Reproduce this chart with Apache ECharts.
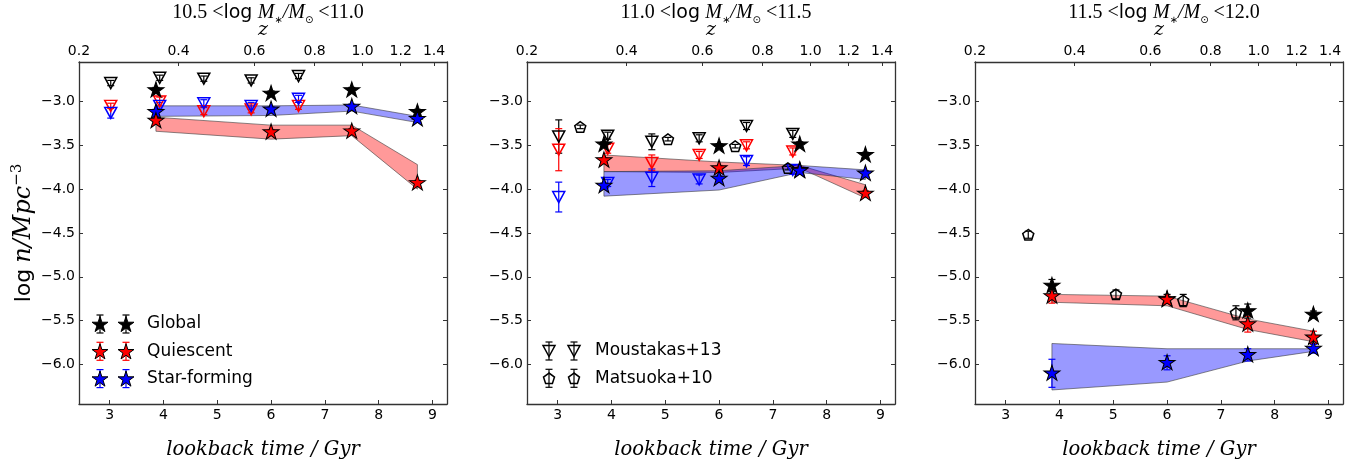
<!DOCTYPE html>
<html><head><meta charset="utf-8">
<script src="https://cdn.jsdelivr.net/npm/echarts@6/dist/echarts.min.js"></script>
<style>html,body{margin:0;padding:0;background:#fff;}#c{width:1365px;height:468px;}</style>
</head><body><div id="c"></div>
<script>
// ---------------- data ----------------
const panelTitles = [['10.5', '11.0'], ['11.0', '11.5'], ['11.5', '12.0']];
const xTicks = [3, 4, 5, 6, 7, 8, 9];
const yTicks = [-6.0, -5.5, -5.0, -4.5, -4.0, -3.5, -3.0];
const zTickLabels = ['0.2', '0.4', '0.6', '0.8', '1.0', '1.2', '1.4'];
const zTickLookback = [2.43, 4.28, 5.69, 6.81, 7.70, 8.41, 9.03];

const starX = [3.86, 6.0, 7.5, 8.72];
const moustakasX = [3.02, 3.93, 4.75, 5.63, 6.51, 7.37];
const matsuokaX = [3.42, 5.05, 6.30, 7.28];

// panel 1 : 10.5 < log M < 11.0
const p1Global = [-2.87, -2.91, -2.87, -3.12];
const p1GlobalErr = [0.03, 0.03, 0.03, 0.03];
const p1Quiescent = [-3.22, -3.35, -3.34, -3.93];
const p1QuiescentErr = [0.03, 0.03, 0.03, 0.03];
const p1StarForming = [-3.12, -3.09, -3.06, -3.20];
const p1StarFormingErr = [0.03, 0.03, 0.03, 0.03];
const p1QuiescentLo = [-3.34, -3.43, -3.39, -4.00];
const p1QuiescentHi = [-3.18, -3.27, -3.27, -3.72];
const p1StarFormingLo = [-3.17, -3.16, -3.11, -3.24];
const p1StarFormingHi = [-3.05, -3.05, -3.04, -3.17];
const p1MousGlobal = [-2.79, -2.73, -2.74, -2.76, -2.71];
const p1MousGlobalErr = [0.03, 0.03, 0.03, 0.03, 0.03];
const p1MousQuiescent = [-3.05, -3.00, -3.11, -3.09, -3.05];
const p1MousQuiescentErr = [0.03, 0.05, 0.04, 0.04, 0.04];
const p1MousStarForming = [-3.13, -3.05, -3.02, -3.05, -2.97];
const p1MousStarFormingErr = [0.06, 0.04, 0.04, 0.04, 0.04];

// panel 2 : 11.0 < log M < 11.5
const p2Global = [-3.49, -3.51, -3.49, -3.61];
const p2GlobalErr = [0.03, 0.03, 0.03, 0.03];
const p2Quiescent = [-3.67, -3.76, -3.78, -4.05];
const p2QuiescentErr = [0.03, 0.03, 0.03, 0.03];
const p2StarForming = [-3.96, -3.88, -3.79, -3.82];
const p2StarFormingErr = [0.03, 0.03, 0.03, 0.03];
const p2QuiescentLo = [-3.80, -3.81, -3.76, -4.10];
const p2QuiescentHi = [-3.61, -3.69, -3.73, -3.95];
const p2StarFormingLo = [-4.08, -4.01, -3.81, -3.89];
const p2StarFormingHi = [-3.80, -3.79, -3.73, -3.78];
const p2MousGlobal = [-3.40, -3.39, -3.46, -3.42, -3.28, -3.37];
const p2MousGlobalErr = [0.19, 0.04, 0.09, 0.04, 0.04, 0.04];
const p2MousQuiescent = [-3.55, -3.54, -3.70, -3.61, -3.50, -3.57];
const p2MousQuiescentErr = [0.24, 0.05, 0.09, 0.04, 0.04, 0.04];
const p2MousStarForming = [-4.09, -3.93, -3.87, -3.89, -3.68, -3.78];
const p2MousStarFormingErr = [0.17, 0.04, 0.10, 0.05, 0.05, 0.05];
const p2Matsuoka = [-3.29, -3.43, -3.51, -3.76];
const p2MatsuokaErr = [0.02, 0.02, 0.02, 0.02];

// panel 3 : 11.5 < log M < 12.0
const p3Global = [-5.10, -5.25, -5.39, -5.43];
const p3GlobalErr = [0.07, 0.05, 0.08, 0.04];
const p3Quiescent = [-5.22, -5.26, -5.54, -5.69];
const p3QuiescentErr = [0.08, 0.04, 0.09, 0.07];
const p3StarForming = [-6.10, -5.98, -5.89, -5.82];
const p3StarFormingErr = [0.16, 0.08, 0.07, 0.05];
const p3QuiescentLo = [-5.29, -5.33, -5.60, -5.74];
const p3QuiescentHi = [-5.20, -5.22, -5.48, -5.62];
const p3StarFormingLo = [-6.29, -6.20, -5.96, -5.85];
const p3StarFormingHi = [-5.76, -5.82, -5.82, -5.82];
const p3Matsuoka = [-4.52, -5.20, -5.27, -5.41];
const p3MatsuokaErr = [0.04, 0.05, 0.07, 0.08];

// ---------------- styling ----------------
// marker outlines in a 0..100 box
const STAR_PTS = [[50,0],[38.77,34.55],[2.44,34.55],[31.83,55.9],[20.61,90.45],[50,69.1],[79.39,90.45],[68.17,55.9],[97.56,34.55],[61.23,34.55]];
const TRI_PTS = [[0,0],[100,0],[50,100]];
const PENT_PTS = [[50,0],[2.44,34.55],[20.61,90.45],[79.39,90.45],[97.56,34.55]];
function toPath(pts) { return 'path://M' + pts.map(p => p[0] + ' ' + p[1]).join('L') + 'Z'; }
function placePts(pts, cx, cy, w, h) {
  const xs = pts.map(p => p[0]), ys = pts.map(p => p[1]);
  const x0 = Math.min(...xs), x1 = Math.max(...xs), y0 = Math.min(...ys), y1 = Math.max(...ys);
  return pts.map(p => [cx - w / 2 + (p[0] - x0) / (x1 - x0) * w, cy - h / 2 + (p[1] - y0) / (y1 - y0) * h]);
}
const SANS = '"DejaVu Sans", sans-serif';
const SERIF = '"Liberation Serif", "DejaVu Serif", serif';
const MATH = '"DejaVu Serif", serif';
const AX = '#333';
const gridLefts = [79, 527, 975];
const GRID_TOP = 62, GRID_W = 368, GRID_H = 342;
const XMIN = 2.43, XMAX = 9.27, YMIN = -6.45, YMAX = -2.55;
const STAR_SIZE = [16, 15.2], TRI = [12, 11], PENT = [11, 10.5];

function fmtY(v) { return (v < 0 ? '\u2212' : '') + Math.abs(v).toFixed(1); }

const grids = gridLefts.map(l => ({ left: l, top: GRID_TOP, width: GRID_W, height: GRID_H }));
const xAxes = [], yAxes = [];
gridLefts.forEach((l, gi) => {
  xAxes.push({
    gridIndex: gi, type: 'value', position: 'bottom', min: XMIN, max: XMAX,
    axisLine: { show: true, onZero: false, lineStyle: { color: AX, width: 1.3 } },
    axisTick: { show: true, inside: true, length: 4, customValues: xTicks, lineStyle: { color: AX, width: 1 } },
    axisLabel: { customValues: xTicks, fontFamily: SANS, fontSize: 14, color: '#000', margin: 4 },
    splitLine: { show: false },
    name: 'lookback time / Gyr', nameLocation: 'middle', nameGap: 36,
    nameTextStyle: { fontFamily: MATH, fontStyle: 'italic', fontSize: 19.5, color: '#000' }
  });
  xAxes.push({
    gridIndex: gi, type: 'value', position: 'top', min: XMIN, max: XMAX,
    axisLine: { show: true, onZero: false, lineStyle: { color: AX, width: 1.3 } },
    axisTick: { show: true, inside: true, length: 4, customValues: zTickLookback, lineStyle: { color: AX, width: 1 } },
    axisLabel: {
      customValues: zTickLookback, fontFamily: SANS, fontSize: 14, color: '#000', margin: 4,
      formatter: v => { const i = zTickLookback.findIndex(t => Math.abs(t - v) < 1e-6); return i >= 0 ? zTickLabels[i] : ''; }
    },
    splitLine: { show: false },
    name: 'z', nameLocation: 'middle', nameGap: 17,
    nameTextStyle: { fontFamily: MATH, fontStyle: 'italic', fontSize: 19, color: '#000' }
  });
  const yl = {
    gridIndex: gi, type: 'value', position: 'left', min: YMIN, max: YMAX,
    axisLine: { show: true, onZero: false, lineStyle: { color: AX, width: 1.3 } },
    axisTick: { show: true, inside: true, length: 4, customValues: yTicks, lineStyle: { color: AX, width: 1 } },
    axisLabel: { customValues: yTicks, fontFamily: SANS, fontSize: 14, color: '#000', margin: 4, formatter: fmtY },
    splitLine: { show: false }
  };
  if (gi === 0) {
    yl.name = '{l|log} {m|n/Mpc}{s|\u22123}';
    yl.nameLocation = 'middle'; yl.nameRotate = 90; yl.nameGap = 41;
    yl.nameTextStyle = {
      color: '#000', fontSize: 22,
      rich: {
        l: { fontFamily: SANS, fontSize: 22, color: '#000', lineHeight: 28 },
        m: { fontFamily: MATH, fontStyle: 'italic', fontSize: 24, color: '#000', lineHeight: 28 },
        s: { fontFamily: MATH, fontSize: 15, color: '#000', verticalAlign: 'top', lineHeight: 28 }
      }
    };
  }
  yAxes.push(yl);
  yAxes.push({
    gridIndex: gi, type: 'value', position: 'right', min: YMIN, max: YMAX,
    axisLine: { show: true, onZero: false, lineStyle: { color: AX, width: 1.3 } },
    axisTick: { show: true, inside: true, length: 4, customValues: yTicks, lineStyle: { color: AX, width: 1 } },
    axisLabel: { show: false }, splitLine: { show: false }
  });
});

const titles = panelTitles.map((t, gi) => ({
  text: '{n|' + t[0] + ' <}{l|log} {m|M}{s|\u2217}{m|/M}{s|\u2299}{n| <' + t[1] + '}',
  left: gridLefts[gi] + GRID_W / 2, top: -4, textAlign: 'center',
  textStyle: {
    fontSize: 19, color: '#000', fontWeight: 'normal',
    rich: {
      n: { fontFamily: SERIF, fontSize: 20, color: '#000', fontWeight: 'normal', lineHeight: 24 },
      l: { fontFamily: SANS, fontSize: 19, color: '#000', fontWeight: 'normal', lineHeight: 24 },
      m: { fontFamily: SERIF, fontStyle: 'italic', fontSize: 20, color: '#000', fontWeight: 'normal', lineHeight: 24 },
      s: { fontFamily: SANS, fontSize: 10, color: '#000', fontWeight: 'normal', verticalAlign: 'bottom', lineHeight: 24 }
    }
  }
}));

const series = [];
function band(gi, lo, hi, fill) {
  series.push({
    type: 'custom', xAxisIndex: 2 * gi, yAxisIndex: 2 * gi, z: 1, silent: true,
    data: starX.map((x, i) => [x, lo[i], hi[i]]), encode: { x: 0, y: [1, 2] },
    renderItem: (params, api) => {
      if (params.dataIndex !== 0) return null;
      const pts = [];
      for (let i = 0; i < starX.length; i++) pts.push(api.coord([starX[i], hi[i]]));
      for (let i = starX.length - 1; i >= 0; i--) pts.push(api.coord([starX[i], lo[i]]));
      return { type: 'polygon', shape: { points: pts }, style: { fill: fill, stroke: 'rgba(60,60,60,0.6)', lineWidth: 1 } };
    }
  });
}
function errbars(gi, xs, ys, es, color, z) {
  series.push({
    type: 'custom', xAxisIndex: 2 * gi, yAxisIndex: 2 * gi, z: z, silent: true,
    data: ys.map((y, i) => [xs[i], y, es[i]]), encode: { x: 0, y: 1 },
    renderItem: (params, api) => {
      const x = api.value(0), y = api.value(1), e = api.value(2);
      const a = api.coord([x, y + e]), b = api.coord([x, y - e]);
      const st = { stroke: color, lineWidth: 1.2 };
      return { type: 'group', children: [
        { type: 'line', shape: { x1: a[0], y1: a[1], x2: b[0], y2: b[1] }, style: st },
        { type: 'line', shape: { x1: a[0] - 3.5, y1: a[1], x2: a[0] + 3.5, y2: a[1] }, style: st },
        { type: 'line', shape: { x1: b[0] - 3.5, y1: b[1], x2: b[0] + 3.5, y2: b[1] }, style: st }
      ] };
    }
  });
}
function stars(gi, name, ys, es, color, z) {
  errbars(gi, starX, ys, es, color, z);
  series.push({
    type: 'scatter', name: name, xAxisIndex: 2 * gi, yAxisIndex: 2 * gi, z: z + 1, silent: true,
    data: starX.map((x, i) => [x, ys[i]]),
    symbol: toPath(STAR_PTS), symbolSize: STAR_SIZE, symbolOffset: [0, -0.6],
    itemStyle: { color: color, borderColor: '#000', borderWidth: 1, opacity: 1 }
  });
}
function hollow(gi, xs, ys, es, color, pts, size, z) {
  errbars(gi, xs, ys, es, color, z);
  series.push({
    type: 'scatter', xAxisIndex: 2 * gi, yAxisIndex: 2 * gi, z: z + 1, silent: true,
    data: ys.map((y, i) => [xs[i], y]),
    symbol: toPath(pts), symbolSize: size,
    itemStyle: { color: 'rgba(255,255,255,0)', borderColor: color, borderWidth: 1.5, opacity: 1 }
  });
}
const RED_BAND = 'rgba(255,0,0,0.4)', BLUE_BAND = 'rgba(0,0,255,0.4)';

// panel 1
band(0, p1QuiescentLo, p1QuiescentHi, RED_BAND);
band(0, p1StarFormingLo, p1StarFormingHi, BLUE_BAND);
hollow(0, moustakasX, p1MousGlobal, p1MousGlobalErr, '#000', TRI_PTS, TRI, 3);
hollow(0, moustakasX, p1MousQuiescent, p1MousQuiescentErr, '#f00', TRI_PTS, TRI, 3);
hollow(0, moustakasX, p1MousStarForming, p1MousStarFormingErr, '#00f', TRI_PTS, TRI, 3);
stars(0, 'Global', p1Global, p1GlobalErr, '#000', 5);
stars(0, 'Star-forming', p1StarForming, p1StarFormingErr, '#00f', 5);
stars(0, 'Quiescent', p1Quiescent, p1QuiescentErr, '#f00', 5);
// panel 2
band(1, p2QuiescentLo, p2QuiescentHi, RED_BAND);
band(1, p2StarFormingLo, p2StarFormingHi, BLUE_BAND);
hollow(1, moustakasX, p2MousGlobal, p2MousGlobalErr, '#000', TRI_PTS, TRI, 3);
hollow(1, moustakasX, p2MousQuiescent, p2MousQuiescentErr, '#f00', TRI_PTS, TRI, 3);
hollow(1, moustakasX, p2MousStarForming, p2MousStarFormingErr, '#00f', TRI_PTS, TRI, 3);
hollow(1, matsuokaX, p2Matsuoka, p2MatsuokaErr, '#000', PENT_PTS, PENT, 3);
stars(1, 'Global', p2Global, p2GlobalErr, '#000', 5);
stars(1, 'Quiescent', p2Quiescent, p2QuiescentErr, '#f00', 5);
stars(1, 'Star-forming', p2StarForming, p2StarFormingErr, '#00f', 5);
// panel 3
band(2, p3QuiescentLo, p3QuiescentHi, RED_BAND);
band(2, p3StarFormingLo, p3StarFormingHi, BLUE_BAND);
hollow(2, matsuokaX, p3Matsuoka, p3MatsuokaErr, '#000', PENT_PTS, PENT, 3);
stars(2, 'Global', p3Global, p3GlobalErr, '#000', 5);
stars(2, 'Quiescent', p3Quiescent, p3QuiescentErr, '#f00', 5);
stars(2, 'Star-forming', p3StarForming, p3StarFormingErr, '#00f', 5);

// ---------------- legends (graphic) ----------------
const legend1 = [
  { label: 'Global', pts: STAR_PTS, fill: '#000', err: '#000', size: STAR_SIZE },
  { label: 'Quiescent', pts: STAR_PTS, fill: '#f00', err: '#f00', size: STAR_SIZE },
  { label: 'Star-forming', pts: STAR_PTS, fill: '#00f', err: '#00f', size: STAR_SIZE }
];
const legend2 = [
  { label: 'Moustakas+13', pts: TRI_PTS, fill: null, err: '#000', size: TRI },
  { label: 'Matsuoka+10', pts: PENT_PTS, fill: null, err: '#000', size: PENT }
];
const graphics = [];
function addLegend(entries, gi, dx1, dx2, dxt, y0, dy) {
  const left = gridLefts[gi];
  entries.forEach((e, k) => {
    const cy = y0 + k * dy;
    [left + dx1, left + dx2].forEach(cx => {
      const st = { stroke: e.err, lineWidth: 1.2 };
      graphics.push({ type: 'line', z: 10, shape: { x1: cx, y1: cy - 9, x2: cx, y2: cy + 9 }, style: st });
      graphics.push({ type: 'line', z: 10, shape: { x1: cx - 3.5, y1: cy - 9, x2: cx + 3.5, y2: cy - 9 }, style: st });
      graphics.push({ type: 'line', z: 10, shape: { x1: cx - 3.5, y1: cy + 9, x2: cx + 3.5, y2: cy + 9 }, style: st });
      graphics.push({
        type: 'polygon', z: 11,
        shape: { points: placePts(e.pts, cx, cy, e.size[0], e.size[1]) },
        style: e.fill ? { fill: e.fill, stroke: '#000', lineWidth: 1 } : { fill: 'rgba(255,255,255,0)', stroke: '#000', lineWidth: 1.5 }
      });
    });
    graphics.push({ type: 'text', x: left + dxt, y: cy, z: 11, style: { text: e.label, fontFamily: SANS, fontSize: 17, fill: '#000', verticalAlign: 'middle', align: 'left' } });
  });
}
addLegend(legend1, 0, 21, 47, 68, 324, 27.3);
addLegend(legend2, 1, 22, 47, 68, 351, 27.3);

const chart = echarts.init(document.getElementById('c'), null, { renderer: 'canvas' });
chart.setOption({
  backgroundColor: '#fff', animation: false,
  title: titles, grid: grids, xAxis: xAxes, yAxis: yAxes, series: series, graphic: graphics
});
</script></body></html>
